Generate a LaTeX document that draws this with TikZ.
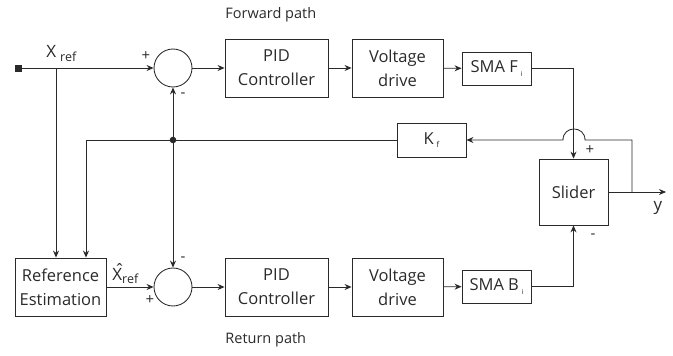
\documentclass[tikz,border=0pt]{standalone}
\usepackage{fontspec}
\setmainfont{Open Sans}
\usetikzlibrary{arrows.meta,calc}
\definecolor{ink}{HTML}{2A2A2A}
\begin{document}
\begin{tikzpicture}[x=1pt,y=-1pt,line width=0.85pt,draw=ink,text=ink,
  blk/.style={draw,rectangle,inner sep=0pt,align=center,font=\fontsize{16.5}{24}\selectfont},
  sumc/.style={draw,circle,minimum size=38pt,inner sep=0pt},
  arr/.style={-{Stealth[length=7pt,width=6pt]}},
  lbl/.style={font=\fontsize{15}{15}\selectfont,inner sep=0pt},
  pathcaption/.style={font=\fontsize{14.5}{14.5}\selectfont,inner sep=0pt,anchor=west}]
\useasboundingbox (0,0) rectangle (673,356);
% blocks
\node[sumc] (s1) at (173,68) {};
\node[blk,minimum width=103pt,minimum height=58pt] (pid1) at (276.5,68) {PID\\Controller};
\node[blk,minimum width=91pt,minimum height=58pt] (vd1) at (397.5,68) {Voltage\\drive};
\node[blk,minimum width=69pt,minimum height=33pt] (smaf) at (496.5,68.5) {SMA F\,\raisebox{-4pt}{\fontsize{7}{7}\selectfont i}};
\node[blk,minimum width=69pt,minimum height=66pt] (sl) at (573.5,192) {Slider};
\node[blk,minimum width=69pt,minimum height=34pt] (kf) at (431.5,140) {K\,\raisebox{-3pt}{\fontsize{8}{8}\selectfont f}};
\node[blk,minimum width=91pt,minimum height=58pt] (re) at (60.5,287) {Reference\\Estimation};
\node[sumc] (s2) at (173,287) {};
\node[blk,minimum width=103pt,minimum height=58pt] (pid2) at (276.5,287) {PID\\Controller};
\node[blk,minimum width=91pt,minimum height=58pt] (vd2) at (397.5,287) {Voltage\\drive};
\node[blk,minimum width=69pt,minimum height=33pt] (smab) at (496.5,286.5) {SMA B\,\raisebox{-4pt}{\fontsize{7}{7}\selectfont i}};
% coordinates
\coordinate (in) at (18,68);
\coordinate (b1) at (56,68);
\coordinate (dot) at (173,140);
\coordinate (fb) at (86,140);
\coordinate (yb) at (632,192);
\coordinate (yout) at (666,192);
\coordinate (jr) at (585,140);
\coordinate (jl) at (563,140);
\fill[ink] ($(in)+(-3.5,-3.5)$) rectangle ($(in)+(3.5,3.5)$);
\fill[ink] (dot) circle (3.3pt);
% forward
\draw[arr] (in) -- (s1.west);
\draw[arr] (b1) -- (b1 |- re.north);
\draw[arr] (s1) -- (pid1);
\draw[arr] (pid1) -- (vd1);
\draw[arr] (vd1) -- (smaf);
\draw[arr] (smaf.east) -| (sl.north);
% output and feedback
\draw[arr] (sl.east) -- (yout);
\draw[arr] (yb) |- (jr) .. controls (585,125.3) and (563,125.3) .. (jl) -- (kf.east);
\draw (kf.west) -- (fb);
\draw[arr] (fb) -- (fb |- re.north);
\draw[arr] (dot) -- (s1.south);
\draw[arr] (dot) -- (s2.north);
% return
\draw[arr] (re.east |- s2) -- (s2.west);
\draw[arr] (s2) -- (pid2);
\draw[arr] (pid2) -- (vd2);
\draw[arr] (vd2) -- (smab);
\draw[arr] (smab.east) -| (sl.south);
% labels
\node[font=\fontsize{17}{17}\selectfont,anchor=base west,inner sep=0pt] (xr) at (46,57) {X\hspace{4pt}\raisebox{-4pt}{\fontsize{12.5}{12.5}\selectfont ref}};
\node[lbl] (p1) at (146,56) {+};
\node[lbl] (m1) at (183,95) {-};
\node[lbl] (m2) at (183,259) {-};
\node[lbl] (p2) at (150,300) {+};
\node[lbl] (ps) at (590,150) {+};
\node[lbl] (ms) at (593,236) {-};
\node[font=\fontsize{17}{17}\selectfont,inner sep=0pt] (yl) at (658,208) {y};
\node[font=\fontsize{17}{17}\selectfont,anchor=base west,inner sep=0pt] (xh) at (112,280) {\rlap{\kern2.2pt\raisebox{3.5pt}{ˆ}}X\raisebox{-3pt}{\fontsize{12.5}{12.5}\selectfont ref}};
\node[pathcaption] (fp) at (225,15) {Forward path};
\node[pathcaption] (rp) at (225,340) {Return path};
\end{tikzpicture}
\end{document}
